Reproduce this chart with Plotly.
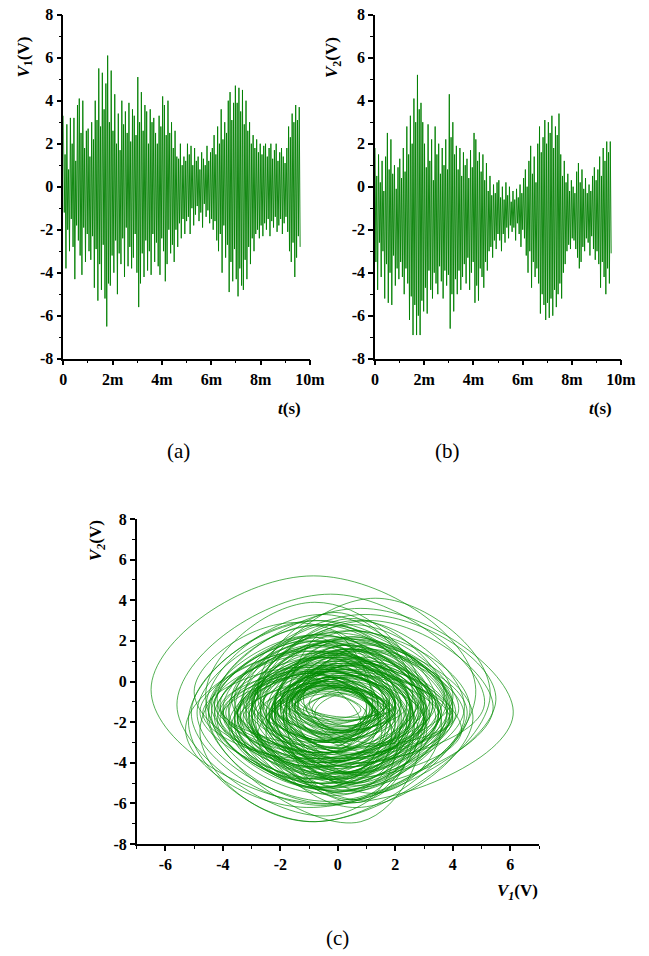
import numpy as np
import plotly.graph_objects as go

# ---------------- data ----------------
# V1(t): successive oscillation peaks (max, min) between 0 and 9.6 ms
v1 = [
    3.3, -1.2, 1.5, -3.8, 2.9, -2.0, 0.8, -3.0, 3.2, -1.5, 2.0, -2.8, 3.2, -4.3, 1.2, -1.8, 3.8, -2.5, 4.1, -3.2, 2.5, -4.1, 4.0, -1.9, 1.8, -3.5, 2.6, -2.2,
    2.7, -3.0, 1.4, -3.4, 3.0, -2.3, 2.2, -4.7, 4.0, -2.9, 3.1, -5.3, 5.5, -3.6, 2.8, -4.8, 5.3, -2.7, 3.6, -5.2, 4.8, -6.5, 6.1, -4.5, 3.0, -4.6, 5.4, -3.2,
    2.6, -4.0, 4.3, -2.5, 2.0, -5.0, 3.4, -3.1, 1.7, -3.6, 4.0, -2.4, 2.9, -4.2, 3.5, -1.9, 2.5, -3.7, 3.9, -2.8, 2.1, -3.8, 3.6, -3.3, 3.3, -2.2, 2.4, -4.0,
    5.1, -5.6, 3.0, -4.5, 4.4, -3.1, 2.6, -4.2, 3.8, -2.5, 3.5, -3.9, 2.0, -3.0, 3.6, -4.1, 3.0, -2.2, 3.2, -3.5, 2.5, -2.6, 2.0, -3.7, 3.3, -4.1, 2.8, -2.4,
    4.2, -3.0, 3.8, -4.4, 2.4, -3.6, 4.0, -2.0, 2.5, -3.1, 3.0, -2.7, 1.8, -3.5, 2.6, -2.0, 1.4, -2.8, 1.3, -1.7, 2.0, -2.4, 1.0, -1.5, 1.4, -2.2, 1.2, -1.6,
    2.0, -1.4, 1.5, -2.2, 1.9, -1.0, 1.0, -1.8, 1.8, -1.3, 1.2, -0.9, 1.4, -1.6, 0.8, -1.2, 1.6, -1.9, 1.3, -0.8, 1.0, -1.4, 1.9, -1.1, 1.2, -1.7, 1.6, -1.5,
    1.8, -2.0, 2.4, -1.6, 1.5, -2.5, 2.8, -3.0, 2.0, -2.2, 3.6, -4.0, 2.2, -1.8, 3.0, -3.3, 2.5, -2.7, 4.0, -4.9, 4.4, -3.5, 3.1, -4.4, 3.9, -2.9, 4.7, -4.3,
    3.9, -5.1, 4.6, -3.8, 3.5, -4.6, 4.5, -4.8, 2.9, -3.4, 4.0, -4.3, 2.6, -2.8, 3.0, -3.6, 2.0, -2.4, 2.4, -3.0, 1.8, -2.2, 2.2, -2.0, 1.6, -2.4, 2.0, -1.8,
    1.5, -2.3, 1.9, -1.7, 2.0, -2.0, 1.4, -1.5, 1.8, -2.3, 2.0, -1.6, 1.3, -1.9, 1.7, -1.4, 2.0, -2.1, 1.2, -1.8, 1.6, -1.5, 1.8, -2.2, 1.4, -1.7, 1.1, -1.4,
    1.8, -2.1, 2.8, -3.0, 2.3, -3.5, 3.4, -2.6, 3.0, -4.2, 3.8, -3.3, 3.1, -2.3, 3.7, -2.8,
]

# V2(t): successive oscillation peaks (max, min) between 0 and 9.6 ms
v2 = [
    1.8, -3.5, 0.5, -4.8, 1.5, -2.6, 0.2, -4.2, 1.2, -3.0, -0.2, -5.2, 1.4, -3.6, 2.5, -5.4, 0.8, -4.0, 2.2, -5.5, 0.6, -3.2, 1.0, -4.6, -0.1, -3.8, 0.9, -4.3,
    1.3, -3.5, 0.4, -4.2, 1.8, -5.0, 0.7, -3.8, 2.8, -4.5, 1.5, -6.2, 3.3, -5.1, 2.0, -6.9, 4.1, -5.5, 3.0, -6.9, 5.2, -6.0, 3.6, -6.9, 3.9, -5.3, 3.0, -5.8,
    2.0, -4.7, 0.9, -5.9, 2.9, -3.9, 1.2, -4.8, 2.2, -5.2, 0.3, -4.0, 2.8, -4.5, 1.5, -5.0, 2.0, -3.7, 0.6, -4.4, 1.8, -5.2, 1.0, -3.9, 2.2, -4.6, 0.8, -4.1,
    4.3, -6.6, 2.3, -5.0, 3.0, -5.8, 1.5, -4.3, 1.9, -5.0, 0.8, -3.9, 1.8, -4.8, 0.5, -4.2, 1.6, -3.6, 1.0, -4.5, 1.3, -3.3, 0.4, -4.8, 1.7, -4.0, 0.9, -3.5,
    2.5, -5.4, 2.2, -4.6, 1.2, -5.3, 1.6, -3.8, 0.7, -4.2, 1.5, -4.7, 0.3, -3.5, 1.1, -3.9, -0.2, -3.0, 0.5, -2.8, -0.4, -3.3, 0.1, -2.5, -0.3, -2.9, 0.2, -2.2,
    0.3, -2.5, -0.5, -3.0, 0.0, -2.2, -0.6, -2.6, 0.2, -1.9, -0.4, -2.4, 0.0, -1.8, -0.7, -2.1, -0.2, -1.9, -0.6, -2.5, -0.1, -1.7, -0.5, -2.2, 0.1, -2.8, -0.3, -2.0,
    0.4, -2.4, 0.8, -3.2, 0.0, -4.0, 1.2, -3.0, 1.9, -4.7, 0.6, -3.5, 1.4, -4.2, 0.2, -3.8, 2.0, -4.5, 2.8, -5.9, 1.6, -5.0, 2.3, -5.5, 3.1, -6.2, 2.0, -5.4,
    3.0, -6.1, 2.5, -5.2, 3.3, -6.0, 1.8, -4.8, 2.8, -5.6, 2.4, -5.0, 3.4, -4.5, 1.5, -5.2, 0.5, -4.0, 1.2, -3.6, 0.2, -3.0, 0.6, -2.7, -0.2, -2.9, 0.3, -2.4,
    0.0, -2.5, -0.3, -2.9, 0.7, -3.3, 1.1, -3.8, 0.2, -3.5, 0.8, -2.8, -0.1, -3.0, 0.4, -2.4, -0.3, -2.6, 0.1, -3.2, -0.2, -2.3, 0.5, -2.9, 0.9, -3.4, 0.3, -3.0,
    0.8, -3.6, 1.4, -4.7, 0.5, -3.5, 1.8, -4.2, 1.2, -5.0, 2.1, -3.8, 1.6, -4.5, 2.1, -3.1,
]

t_end_ms = 9.6
t_ticks = [0, 2, 4, 6, 8, 10]
t_ticktext = ["0", "2m", "4m", "6m", "8m", "10m"]
v_ticks = [-8, -6, -4, -2, 0, 2, 4, 6, 8]
v_ticktext = ["-8", "-6", "-4", "-2", "0", "2", "4", "6", "8"]
phase_x_ticks = [-6, -4, -2, 0, 2, 4, 6]
phase_x_ticktext = ["-6", "-4", "-2", "0", "2", "4", "6"]

# ---------------- derived ----------------
t1 = np.linspace(0, t_end_ms, len(v1))
t2 = np.linspace(0, t_end_ms, len(v2))

# phase portrait: each cycle passes through V1 max, V2 max, V1 min, V2 min
px, py = [], []
n = min(len(v1), len(v2)) // 2
for i in range(n):
    r, l = v1[2 * i], v1[2 * i + 1]
    tp, bt = v2[2 * i], v2[2 * i + 1]
    xc = (r + l) / 2
    yc = (tp + bt) / 2
    px += [r, xc, l, xc]
    py += [yc, tp, yc, bt]

GREEN_TS = "rgba(0,128,0,0.9)"
GREEN_PH = "rgba(0,140,0,0.85)"

fig = go.Figure()
fig.add_trace(go.Scatter(x=t1, y=v1, mode="lines", line=dict(color=GREEN_TS, width=1.0),
                         xaxis="x", yaxis="y", showlegend=False, hoverinfo="skip"))
fig.add_trace(go.Scatter(x=t2, y=v2, mode="lines", line=dict(color=GREEN_TS, width=1.0),
                         xaxis="x2", yaxis="y2", showlegend=False, hoverinfo="skip"))
fig.add_trace(go.Scatter(x=px, y=py, mode="lines",
                         line=dict(color=GREEN_PH, width=0.8, shape="spline", smoothing=1.3),
                         xaxis="x3", yaxis="y3", showlegend=False, hoverinfo="skip"))

FONT = "Liberation Serif"
tickfont = dict(family=FONT, size=16, color="black", weight="bold")

def ax(**kw):
    d = dict(showline=True, linecolor="black", linewidth=1.5, ticks="outside",
             ticklen=5, tickwidth=1.5, tickcolor="black", showgrid=False,
             zeroline=False, tickfont=tickfont, automargin=False,
             ticklabeloverflow="allow",
             minor=dict(ticks="outside", ticklen=3, tickwidth=1.2, tickcolor="black", dtick=1))
    d.update(kw)
    return d

W = 649.0
H = 956.0
def py_(p):
    return 1 - p / H
def px_(p):
    return p / W

fig.update_layout(
    width=int(W), height=int(H),
    margin=dict(l=0, r=0, t=0, b=0, autoexpand=False),
    paper_bgcolor="white", plot_bgcolor="white",
    xaxis=ax(domain=[px_(63.3), px_(310)], range=[0, 10], tickvals=t_ticks, ticktext=t_ticktext, anchor="y"),
    yaxis=ax(domain=[py_(358.7), py_(14.7)], range=[-8, 8], tickvals=v_ticks, ticktext=v_ticktext, anchor="x"),
    xaxis2=ax(domain=[px_(375), px_(621)], range=[0, 10], tickvals=t_ticks, ticktext=t_ticktext, anchor="y2"),
    yaxis2=ax(domain=[py_(358.7), py_(14.7)], range=[-8, 8], tickvals=v_ticks, ticktext=v_ticktext, anchor="x2"),
    xaxis3=ax(domain=[px_(136.7), px_(539)], range=[-7, 7], tickvals=phase_x_ticks, ticktext=phase_x_ticktext, anchor="y3"),
    yaxis3=ax(domain=[py_(844), py_(519)], range=[-8, 8], tickvals=v_ticks, ticktext=v_ticktext, anchor="x3"),
)

lab = dict(family=FONT, size=17, color="black")
cap = dict(family=FONT, size=21, color="black")
ann = [
    dict(x=px_(24.5), y=py_(57), text="<b><i>V</i><sub>1</sub>(V)</b>", textangle=-90, font=lab),
    dict(x=px_(333), y=py_(58), text="<b><i>V</i><sub>2</sub>(V)</b>", textangle=-90, font=lab),
    dict(x=px_(289), y=py_(408), text="<b><i>t</i>(s)</b>", font=lab),
    dict(x=px_(600), y=py_(408), text="<b><i>t</i>(s)</b>", font=lab),
    dict(x=px_(97), y=py_(541), text="<b><i>V</i><sub><i>2</i></sub>(V)</b>", textangle=-90, font=lab),
    dict(x=px_(517), y=py_(892), text="<b><i>V</i><sub><i>1</i></sub>(V)</b>", font=lab),
    dict(x=px_(178), y=py_(451), text="(a)", font=cap),
    dict(x=px_(447), y=py_(451), text="(b)", font=cap),
    dict(x=px_(337), y=py_(938), text="(c)", font=cap),
]
for a in ann:
    a.update(xref="paper", yref="paper", showarrow=False, xanchor="center", yanchor="middle")
fig.update_layout(annotations=ann)

# remove the default 8px page margin so the figure fills the window exactly
fig.write_html("out.html", config={"displayModeBar": False},
               post_script="document.body.style.margin='0px';")
